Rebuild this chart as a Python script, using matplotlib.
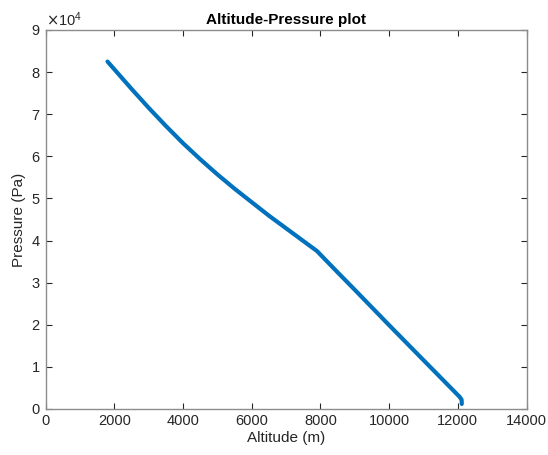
import matplotlib
matplotlib.use("Agg")
import matplotlib.pyplot as plt
from matplotlib.ticker import ScalarFormatter

plt.rcParams['font.family'] = ['Liberation Sans', 'DejaVu Sans']

altitude = [1800, 2500, 3000, 3500, 4000, 4500, 5000, 5500, 6000, 6500, 7000,
            7500, 7900, 8000, 8500, 9000, 10000, 11000, 12050, 12110, 12115]
pressure = [82500, 76000, 71500, 67200, 63100, 59300, 55700, 52300, 49100, 45900,
            42900, 39900, 37500, 36650, 32450, 28300, 19900, 11600, 2900, 2200, 1200]

x_ticks = [0, 2000, 4000, 6000, 8000, 10000, 12000, 14000]
y_ticks = [0, 10000, 20000, 30000, 40000, 50000, 60000, 70000, 80000, 90000]

fig = plt.figure(figsize=(5.48, 4.55), dpi=100)
ax = fig.add_axes([0.0834, 0.1011, 0.8774, 0.833])

ax.plot(altitude, pressure, color='#0072BD', linewidth=3.0,
        solid_capstyle='round', solid_joinstyle='round')

ax.set_xlim(0, 14000)
ax.set_ylim(0, 90000)
ax.set_xticks(x_ticks)
ax.set_yticks(y_ticks)

fmt = ScalarFormatter(useMathText=True)
fmt.set_powerlimits((0, 0))
ax.yaxis.set_major_formatter(fmt)
ax.yaxis.get_offset_text().set_fontsize(10.5)
ax.yaxis.get_offset_text().set_color('#262626')

ax.tick_params(direction='in', top=True, right=True, length=4, width=0.8,
               colors='#262626', labelsize=10.5, labelcolor='#262626')
for s in ax.spines.values():
    s.set_color('#8c8c8c')
    s.set_linewidth(1.0)

ax.set_xlabel('Altitude (m)', fontsize=11, color='#262626', labelpad=2)
ax.set_ylabel('Pressure (Pa)', fontsize=11, color='#262626', labelpad=4)
ax.set_title('Altitude-Pressure plot', fontsize=11, fontweight='bold', pad=4)

fig.savefig('out.png', dpi=100)
